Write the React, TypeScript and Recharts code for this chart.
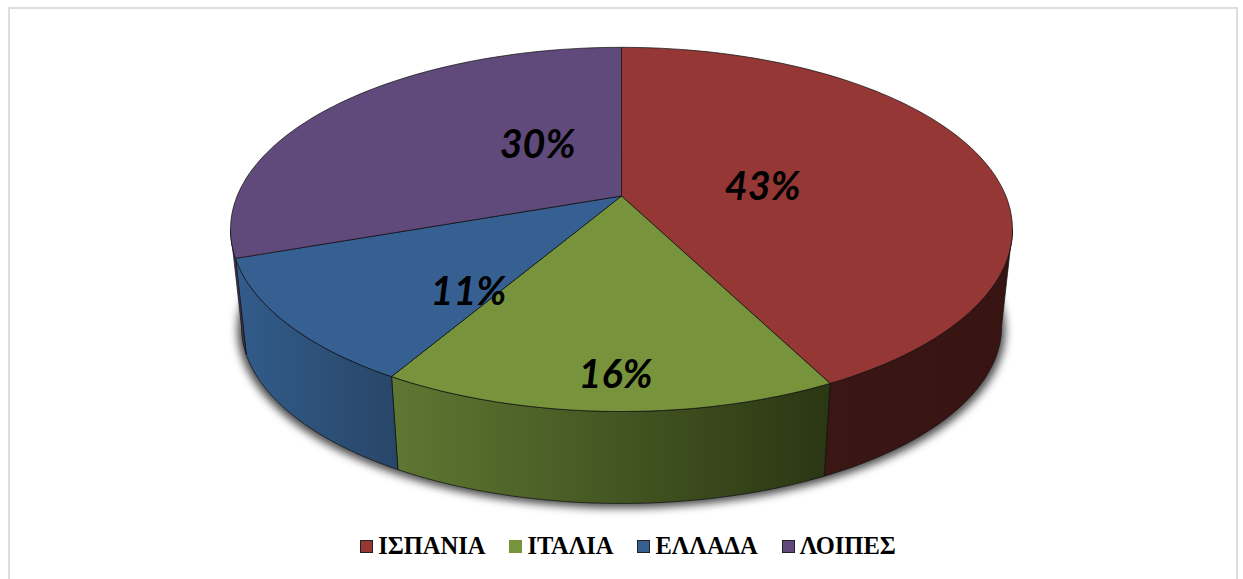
import { Cell, Legend, Pie, PieChart } from "recharts";

const countries = ["ΙΣΠΑΝΙΑ", "ΙΤΑΛΙΑ", "ΕΛΛΑΔΑ", "ΛΟΙΠΕΣ"];
const shares = [42.5, 15.9, 11.2, 30.4];

const topColors = ["#953735", "#77933c", "#376092", "#604a7b"];
const wallStops = [
  ["#3a1614", "#371412"],
  ["#5e7832", "#2b3613"],
  ["#325c8b", "#284668"],
  ["#4c3a62", "#43335a"],
];
// label spots on the unit disc, before perspective
const labelSpots = [
  [0.372, 0.069],
  [-0.013, -0.849],
  [-0.363, -0.482],
  [-0.231, 0.319],
];

const data = countries.map((name, i) => ({ name, value: shares[i] }));

const WIDTH = 1243;
const HEIGHT = 579;
const CX = 621.5;
const CY = 196;
const RADIUS = 391;
const WALL_DROP = 98;
const WALL_SCALE = 0.972;
const TILT = 0.1835;
// clockwise-from-top angle where the rim turns away from the viewer
const FRONT_FROM = (Math.acos(-TILT) * 180) / Math.PI;
const FRONT_TO = 360 - FRONT_FROM;

// the tilted disc: centre sits above the middle of the ellipse
const project = (x: number, y: number, cx: number, cy: number, r: number) => {
  const w = 1 + TILT * y;
  return [cx + (r * 0.983 * x) / w, cy - (r * 0.45 * y) / w];
};

// start and end are clockwise from 12 o'clock
const rimPoints = (start: number, end: number, cx: number, cy: number, r: number) => {
  const steps = Math.max(2, Math.ceil(Math.abs(end - start) / 1.5));
  const pts: number[][] = [];
  for (let i = 0; i <= steps; i++) {
    const a = ((start + ((end - start) * i) / steps) * Math.PI) / 180;
    pts.push(project(Math.sin(a), Math.cos(a), cx, cy, r));
  }
  return pts;
};

const toPath = (pts: number[][]) =>
  pts.map((p, i) => `${i ? "L" : "M"}${p[0].toFixed(1)},${p[1].toFixed(1)}`).join("") + "Z";

const TopSlice = (props: any) => {
  const { cx, cy, outerRadius, startAngle, endAngle, fill } = props;
  const rim = rimPoints(90 - startAngle, 90 - endAngle, cx, cy, outerRadius);
  return (
    <path
      d={toPath([[cx, cy], ...rim])}
      fill={fill}
      stroke="#111"
      strokeOpacity={0.8}
      strokeWidth={0.9}
      strokeLinejoin="round"
    />
  );
};

const WallSlice = (props: any) => {
  const { cx, cy, outerRadius, startAngle, endAngle, index } = props;
  const from = Math.max(90 - startAngle, FRONT_FROM);
  const to = Math.min(90 - endAngle, FRONT_TO);
  if (from >= to) return null;
  const top = rimPoints(from, to, cx, cy, outerRadius);
  const bottom = rimPoints(from, to, cx, cy + WALL_DROP, outerRadius * WALL_SCALE);
  return (
    <path
      d={toPath([...top, ...bottom.reverse()])}
      fill={`url(#wall-${index})`}
      stroke="#111"
      strokeOpacity={0.8}
      strokeWidth={0.9}
      strokeLinejoin="round"
    />
  );
};

const renderLabel = (props: any) => {
  const { cx, cy, outerRadius, percent, index } = props;
  const [sx, sy] = labelSpots[index];
  const [x, y] = project(sx, sy, cx, cy, outerRadius);
  return (
    <text
      key={index}
      x={x}
      y={y}
      textAnchor="middle"
      dominantBaseline="central"
      fontFamily="Lato"
      fontStyle="italic"
      fontWeight={700}
      fontSize={39.5}
      fill="#000"
    >
      {`${Math.round(percent * 100)}%`}
    </text>
  );
};

const renderLegend = () => (
  <div
    style={{
      display: "flex",
      justifyContent: "center",
      gap: 24,
      paddingLeft: 13,
      fontFamily: "Liberation Serif",
      fontWeight: 700,
      fontSize: 24.5,
      lineHeight: "28px",
      color: "#000",
    }}
  >
    {countries.map((name, i) => (
      <span key={name} style={{ display: "flex", alignItems: "center", gap: 5 }}>
        <span
          style={{
            width: 13,
            height: 13,
            boxSizing: "border-box",
            background: topColors[i],
            border: i === 1 ? "none" : "1.5px solid #222",
          }}
        />
        {name}
      </span>
    ))}
  </div>
);

export default function App() {
  return (
    <div style={{ position: "absolute", left: 0, top: 0, width: WIDTH, height: HEIGHT, background: "#fff" }}>
      <div
        style={{
          position: "absolute",
          left: 8,
          top: 7,
          width: 1230,
          height: 572,
          boxSizing: "border-box",
          borderTop: "2px solid #dedede",
          borderLeft: "2px solid #dedede",
          borderRight: "2px solid #dedede",
        }}
      />
      <PieChart
        width={WIDTH}
        height={HEIGHT}
        margin={{ top: 0, right: 0, bottom: 0, left: 0 }}
        style={{ position: "absolute", left: 0, top: 0 }}
      >
        <defs>
          <filter id="pie-shadow" x="-10%" y="-10%" width="120%" height="130%">
            <feGaussianBlur stdDeviation="4" />
          </filter>
          {wallStops.map((stops, i) => (
            <linearGradient key={i} id={`wall-${i}`} x1="0" y1="0" x2="1" y2="0">
              <stop offset="0%" stopColor={stops[0]} />
              <stop offset="100%" stopColor={stops[1]} />
            </linearGradient>
          ))}
        </defs>
        <ellipse cx={CX} cy={330} rx={384} ry={178} fill="#000" fillOpacity={0.7} filter="url(#pie-shadow)" />
        <Pie
          data={data}
          dataKey="value"
          nameKey="name"
          cx={CX}
          cy={CY}
          outerRadius={RADIUS}
          startAngle={90}
          endAngle={-270}
          legendType="none"
          shape={WallSlice}
          isAnimationActive={false}
        />
        <Pie
          data={data}
          dataKey="value"
          nameKey="name"
          cx={CX}
          cy={CY}
          outerRadius={RADIUS}
          startAngle={90}
          endAngle={-270}
          shape={TopSlice}
          label={renderLabel}
          labelLine={false}
          isAnimationActive={false}
        >
          {countries.map((name, i) => (
            <Cell key={name} fill={topColors[i]} />
          ))}
        </Pie>
        <Legend
          content={renderLegend}
          wrapperStyle={{ position: "absolute", left: 0, top: 532, width: WIDTH, bottom: "auto" }}
        />
      </PieChart>
    </div>
  );
}
